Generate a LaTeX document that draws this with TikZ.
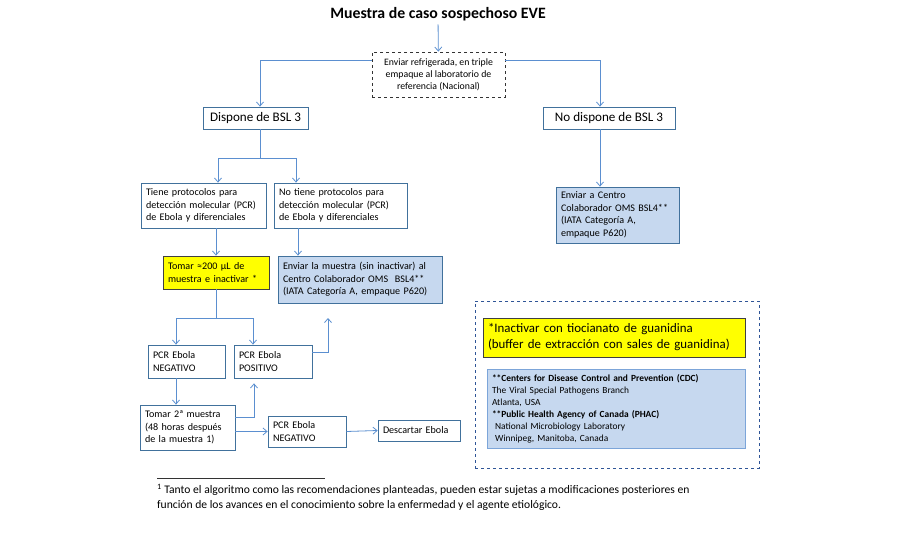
\documentclass[tikz,border=0pt]{standalone}
\usepackage{fontspec}
\setmainfont{Carlito}
\usetikzlibrary{arrows.meta}

\definecolor{marco}{HTML}{41719C}
\definecolor{flecha}{HTML}{5B8FD0}
\definecolor{celeste}{HTML}{C6D8EF}
\definecolor{amarillo}{HTML}{FFFF00}
\definecolor{azulnotas}{HTML}{2F5597}

\tikzset{
  caja/.style={draw=marco,line width=.8pt,fill=white,inner xsep=5pt,inner ysep=2pt,
    align=left,font=\fontsize{10.1}{12.5}\selectfont},
  cajaazul/.style={caja,fill=celeste},
  cajaamarilla/.style={caja,fill=amarillo,draw=black!75},
  flechaazul/.style={draw=flecha,line width=.8pt,-{Straight Barb[length=4pt,width=7pt]}},
  lineaazul/.style={draw=flecha,line width=.8pt}
}

\begin{document}
\begin{tikzpicture}[x=1pt,y=-1pt]
  \useasboundingbox (0,0) rectangle (900,540);
  % encabezado
  \node[font=\bfseries\fontsize{15.8}{18}\selectfont] (titulo) at (438,14) {Muestra de caso sospechoso EVE};
  \node[draw=black!80,dashed,line width=.8pt,minimum width=133pt,minimum height=45pt,align=center,
    inner sep=1pt,font=\fontsize{9.8}{12}\selectfont] (envio) at (438.5,74.5)
    {Enviar refrigerada, en triple\\empaque al laboratorio de\\referencia (Nacional)};
  \node[caja,minimum width=105pt,minimum height=22pt,align=center,font=\fontsize{13.1}{14}\selectfont]
    (dispone) at (255.5,118) {Dispone de BSL 3};
  \node[caja,minimum width=132pt,minimum height=22pt,align=center,font=\fontsize{13.1}{14}\selectfont]
    (nodispone) at (609,118) {No dispone de BSL 3};
  % rama con BSL 3
  \node[caja,text width=115pt,minimum height=45pt] (tiene) at (203.5,205.5)
    {Tiene protocolos para\\detección molecular (PCR)\\de Ebola y diferenciales};
  \node[caja,text width=123pt,minimum height=45pt] (notiene) at (340.5,205.5)
    {No tiene protocolos para\\detección molecular (PCR)\\de Ebola y diferenciales};
  \node[cajaamarilla,text width=96pt,minimum height=33pt] (tomar) at (216,272.5)
    {Tomar ≈200 µL de\\muestra e inactivar *};
  \node[cajaazul,text width=154pt,minimum height=47pt] (enviar) at (360,279.5)
    {Enviar la muestra (sin inactivar) al\\Centro Colaborador OMS\ \ BSL4**\\(IATA Categoría A, empaque P620)};
  \node[caja,text width=67pt,minimum height=33pt] (negativo) at (186.5,361.5) {PCR Ebola\\NEGATIVO};
  \node[caja,text width=68pt,minimum height=33pt] (positivo) at (273,361.5) {PCR Ebola\\POSITIVO};
  \node[caja,text width=85pt,minimum height=45pt] (segunda) at (187.5,427.5)
    {Tomar 2ª muestra\\(48 horas después\\de la muestra 1)};
  \node[caja,text width=68pt,minimum height=31pt] (negativob) at (307,431.5) {PCR Ebola\\NEGATIVO};
  \node[caja,text width=72pt,minimum height=21pt] (descartar) at (419,430.5) {Descartar Ebola};
  \coordinate (haciaenvio) at (328,318);
  % rama sin BSL 3
  \node[cajaazul,text width=113pt,minimum height=56pt] (centro) at (617.5,215)
    {Enviar a Centro\\Colaborador OMS BSL4**\\(IATA Categoría A,\\empaque P620)};
  % recuadro de notas
  \node[draw=azulnotas,dashed,line width=1pt,minimum width=284pt,minimum height=167pt] (notas) at (617,384.5) {};
  \node[cajaamarilla,text width=252pt,minimum height=39pt,font=\fontsize{12.9}{16}\selectfont] (inactivar) at (614,337.5)
    {*Inactivar con tiocianato de guanidina\\(buffer de extracción con sales de guanidina)};
  \node[cajaazul,draw=flecha!80,text width=248pt,minimum height=79pt,font=\fontsize{9.4}{12}\selectfont] (centros) at (616,408.5)
    {\textbf{**Centers for Disease Control and Prevention (CDC)}\\The Viral Special Pathogens Branch\\Atlanta, USA\\
     \textbf{**Public Health Agency of Canada (PHAC)}\\\ National Microbiology Laboratory\\\ Winnipeg, Manitoba, Canada};
  % nota al pie
  \draw[black!80,line width=.6pt] (157,478) -- (325,478);
  \node[anchor=north west,inner sep=0pt,align=left,font=\fontsize{11.6}{15}\selectfont] (pie) at (157,484)
    {\textsuperscript{1} Tanto el algoritmo como las recomendaciones planteadas, pueden estar sujetas a modificaciones posteriores en\\
     función de los avances en el conocimiento sobre la enfermedad y el agente etiológico.};

  % conectores
  \draw[flechaazul] (titulo) -- (envio);
  \draw[flechaazul] (envio.north west) ++(0,9) -| ([xshift=4.5pt]dispone.north);
  \draw[flechaazul] (envio.north east) ++(0,9) -| ([xshift=-9pt]nodispone.north);
  \draw[lineaazul] ([xshift=4.5pt]dispone.south) -- ++(0,29) coordinate (ramauno);
  \draw[flechaazul] (ramauno) -| ([xshift=14.5pt]tiene.north);
  \draw[flechaazul] (ramauno) -| ([xshift=-44.5pt]notiene.north);
  \draw[flechaazul] (tomar.north |- tiene.south) -- (tomar.north);
  \draw[flechaazul] ([xshift=-42.5pt]notiene.south) -- ([xshift=-42.5pt]notiene.south |- enviar.north);
  \draw[flechaazul] ([xshift=-9pt]nodispone.south) -- ([xshift=-9pt]nodispone.south |- centro.north);
  \draw[lineaazul] (tomar.south) -- ++(0,29) coordinate (ramados);
  \draw[flechaazul] (ramados) -| ([xshift=-10.5pt]negativo.north);
  \draw[flechaazul] (ramados) -| ([xshift=-20pt]positivo.north);
  \draw[flechaazul] ([yshift=9.5pt]positivo.east) -| (haciaenvio);
  \draw[flechaazul] ([xshift=-10.5pt]negativo.south) -- ([xshift=-10.5pt]negativo.south |- segunda.north);
  \draw[flechaazul,shorten >=5pt] ([yshift=10.5pt]segunda.east) -| ([xshift=-19pt]positivo.south);
  \draw[flechaazul] (segunda.east |- negativob.west) -- (negativob.west);
  \draw[flechaazul] (negativob.east) -- (descartar.west);
\end{tikzpicture}
\end{document}
